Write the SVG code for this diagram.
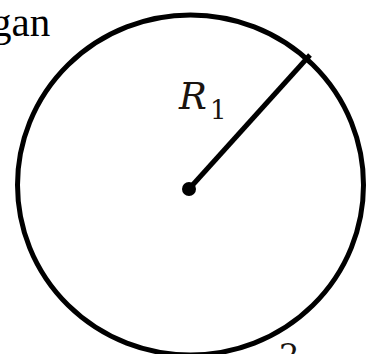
<svg xmlns="http://www.w3.org/2000/svg" width="366" height="354" viewBox="0 0 366 354">
<style>
.stroke{fill:none;stroke:#000;stroke-width:5}
.txt{font-family:"Liberation Serif","Times New Roman",serif;fill:#000}
.math{font-family:"DejaVu Serif","Liberation Serif",serif;fill:#1a1410}
</style>
<rect width="366" height="354" fill="#fff"/>
<text class="txt" x="-9" y="36" font-size="41">gan</text>
<g id="circle">
<ellipse class="stroke" cx="190.5" cy="185" rx="173" ry="170"/>
</g>
<g id="radius">
<line class="stroke" x1="189" y1="189" x2="310" y2="55" stroke-width="4"/>
<circle cx="189" cy="189" r="7" fill="#000"/>
</g>
<g id="label">
<text class="math" x="179" y="109" font-size="37" font-style="italic">R</text>
<text class="math" x="210" y="119" font-size="26">1</text>
</g>
<text class="math" x="279" y="366" font-size="32">2</text>
</svg>
